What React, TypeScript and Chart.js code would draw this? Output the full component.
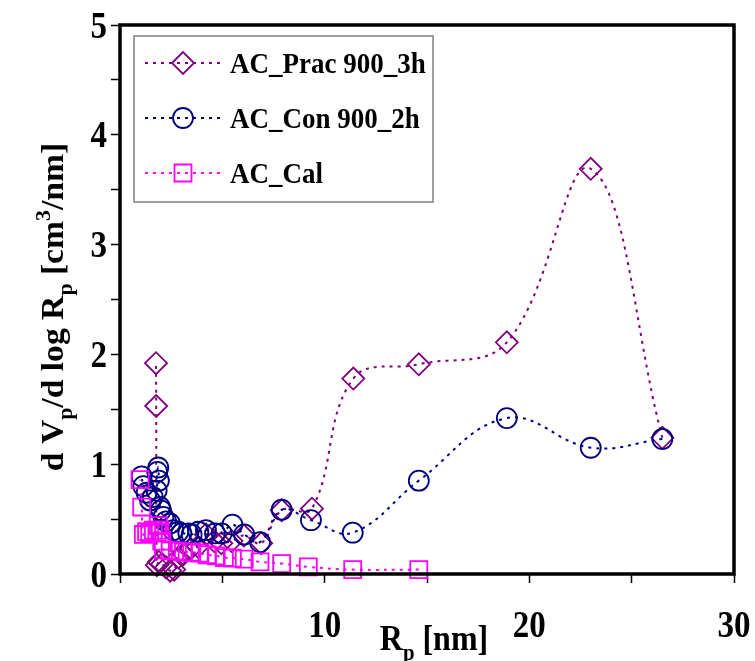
import React, { useEffect, useRef } from 'react';
import { Chart, registerables } from 'chart.js';

Chart.register(...registerables);

// ---------- data ----------
const pracX = [26.5, 23.0, 18.9, 14.6, 11.4, 9.38, 7.9, 6.9, 6.05, 5.45, 4.95, 4.6, 4.2, 3.8, 3.4, 3.1, 2.85, 2.65, 2.45, 2.25, 2.05, 1.9, 1.8, 1.77, 1.76];
const pracY = [1.24, 3.69, 2.11, 1.91, 1.78, 0.595, 0.58, 0.28, 0.35, 0.3, 0.28, 0.3, 0.36, 0.25, 0.22, 0.18, 0.15, 0.04, 0.03, 0.06, 0.09, 0.11, 0.08, 1.53, 1.92];

const conX = [26.5, 23.0, 18.9, 14.6, 11.37, 9.33, 7.9, 6.84, 6.07, 5.49, 4.97, 4.64, 4.2, 3.83, 3.5, 3.34, 3.0, 2.85, 2.6, 2.44, 2.25, 2.12, 2.0, 1.95, 1.9, 1.87, 1.82, 1.79, 1.6, 1.47, 1.3, 1.14, 1.06];
const conY = [1.23, 1.15, 1.42, 0.85, 0.376, 0.49, 0.585, 0.29, 0.36, 0.45, 0.37, 0.37, 0.4, 0.385, 0.36, 0.37, 0.37, 0.385, 0.4, 0.46, 0.48, 0.52, 0.58, 0.61, 0.85, 0.97, 0.93, 0.76, 0.7, 0.67, 0.74, 0.8, 0.89];

const calX = [14.6, 11.37, 9.2, 7.9, 6.84, 6.07, 5.49, 5.1, 4.7, 4.25, 3.9, 3.5, 3.1, 2.8, 2.45, 2.12, 2.04, 1.95, 1.87, 1.8, 1.63, 1.45, 1.3, 1.14, 1.06, 0.98];
const calY = [0.04, 0.04, 0.065, 0.095, 0.11, 0.135, 0.145, 0.15, 0.165, 0.175, 0.19, 0.2, 0.2, 0.21, 0.21, 0.22, 0.3, 0.4, 0.44, 0.38, 0.4, 0.37, 0.385, 0.36, 0.61, 0.86];

const seriesNames = ['AC_Prac 900_3h', 'AC_Con 900_2h', 'AC_Cal'];
const xTickValues = [0, 10, 20, 30];
const yTickValues = [0, 1, 2, 3, 4, 5];

// ---------- style ----------
const PURPLE = '#800080';
const NAVY = '#000080';
const MAGENTA = '#ff00ff';
const FONT = '"Liberation Serif", "Times New Roman", serif';
const STRETCH = 1.12;
const DASH = [3, 5];

type Seg = { t: string; k?: 'sub' | 'sup' };

function segFont(size: number, k?: string) {
  const s = k ? size * 0.65 : size;
  return `bold ${s}px ${FONT}`;
}

function richWidth(ctx: CanvasRenderingContext2D, segs: Seg[], size: number) {
  let w = 0;
  for (const s of segs) {
    ctx.font = segFont(size, s.k);
    w += ctx.measureText(s.t).width;
  }
  return w;
}

function drawRich(ctx: CanvasRenderingContext2D, segs: Seg[], size: number, x: number, y: number, align: 'left' | 'center' | 'right') {
  const w = richWidth(ctx, segs, size);
  let cx = align === 'left' ? x : align === 'center' ? x - w / 2 : x - w;
  ctx.textAlign = 'left';
  ctx.textBaseline = 'alphabetic';
  for (const s of segs) {
    ctx.font = segFont(size, s.k);
    const dy = s.k === 'sub' ? size * 0.28 : s.k === 'sup' ? -size * 0.42 : 0;
    ctx.fillText(s.t, cx, y + dy);
    cx += ctx.measureText(s.t).width;
  }
}

function drawMarker(ctx: CanvasRenderingContext2D, style: string, x: number, y: number, r: number, color: string) {
  ctx.save();
  ctx.strokeStyle = color;
  ctx.lineWidth = 1.8;
  ctx.setLineDash([]);
  ctx.beginPath();
  if (style === 'circle') {
    ctx.arc(x, y, r, 0, Math.PI * 2);
  } else if (style === 'rectRot') {
    ctx.moveTo(x - r, y);
    ctx.lineTo(x, y - r);
    ctx.lineTo(x + r, y);
    ctx.lineTo(x, y + r);
    ctx.closePath();
  } else {
    const h = r * Math.SQRT1_2;
    ctx.rect(x - h, y - h, 2 * h, 2 * h);
  }
  ctx.stroke();
  ctx.restore();
}

const decorPlugin = {
  id: 'decor',
  afterDraw(chart: any) {
    const ctx: CanvasRenderingContext2D = chart.ctx;
    const { left, right, top, bottom } = chart.chartArea;
    const xs = chart.scales.x;
    const ys = chart.scales.y;

    ctx.save();
    // frame
    ctx.strokeStyle = '#000';
    ctx.lineWidth = 3.5;
    ctx.setLineDash([]);
    ctx.strokeRect(left, top, right - left, bottom - top);

    ctx.fillStyle = '#000';
    const tickSize = 33;
    // y tick labels
    for (const v of yTickValues) {
      const py = ys.getPixelForValue(v);
      ctx.save();
      ctx.translate(107, py + tickSize * 0.34 * STRETCH);
      ctx.scale(1, STRETCH);
      drawRich(ctx, [{ t: String(v) }], tickSize, 0, 0, 'right');
      ctx.restore();
    }
    // x tick labels
    for (const v of xTickValues) {
      const px = xs.getPixelForValue(v);
      ctx.save();
      ctx.translate(px, 637);
      ctx.scale(1, STRETCH);
      drawRich(ctx, [{ t: String(v) }], tickSize, 0, 0, 'center');
      ctx.restore();
    }
    // x title
    ctx.save();
    ctx.translate(434, 650);
    ctx.scale(1, STRETCH);
    drawRich(ctx, [{ t: 'R' }, { t: 'p', k: 'sub' }, { t: ' [nm]' }], 32, 0, 0, 'center');
    ctx.restore();
    // y title
    ctx.save();
    ctx.translate(63, 307);
    ctx.rotate(-Math.PI / 2);
    ctx.scale(1.05, 1);
    drawRich(ctx, [
      { t: 'd V' }, { t: 'p', k: 'sub' }, { t: '/d log R' }, { t: 'p', k: 'sub' },
      { t: ' [cm' }, { t: '3', k: 'sup' }, { t: '/nm]' },
    ], 32, 0, 0, 'center');
    ctx.restore();

    // legend
    const lx = 134, ly = 36, lw = 299, lh = 166;
    ctx.fillStyle = '#fff';
    ctx.fillRect(lx, ly, lw, lh);
    ctx.strokeStyle = '#808080';
    ctx.lineWidth = 1.5;
    ctx.strokeRect(lx, ly, lw, lh);
    const entries = [
      { name: seriesNames[0], color: PURPLE, style: 'rectRot', r: 11, y: 63 },
      { name: seriesNames[1], color: NAVY, style: 'circle', r: 10, y: 118 },
      { name: seriesNames[2], color: MAGENTA, style: 'rect', r: 12, y: 173 },
    ];
    for (const e of entries) {
      ctx.save();
      ctx.strokeStyle = e.color;
      ctx.lineWidth = 2;
      ctx.setLineDash(DASH);
      ctx.beginPath();
      ctx.moveTo(145, e.y);
      ctx.lineTo(222, e.y);
      ctx.stroke();
      ctx.restore();
      drawMarker(ctx, e.style, 183, e.y, e.r, e.color);
      ctx.save();
      ctx.fillStyle = '#000';
      ctx.translate(230, e.y + 27 * 0.33 * STRETCH);
      ctx.scale(1, STRETCH);
      drawRich(ctx, [{ t: e.name }], 27, 0, 0, 'left');
      ctx.restore();
    }
    ctx.restore();
  },
};

function mk(xsArr: number[], ysArr: number[], label: string, color: string, style: string, r: number) {
  return {
    label,
    data: xsArr.map((x, i) => ({ x, y: ysArr[i] })),
    showLine: true,
    borderColor: color,
    borderWidth: 2,
    borderDash: DASH,
    tension: 0.4,
    fill: false,
    pointStyle: style,
    pointRadius: r,
    pointHoverRadius: r,
    pointBorderWidth: 1.8,
    pointBorderColor: color,
    pointBackgroundColor: 'rgba(0,0,0,0)',
    clip: false,
  };
}

export default function App() {
  const ref = useRef<HTMLCanvasElement>(null);
  useEffect(() => {
    const chart = new Chart(ref.current as HTMLCanvasElement, {
      type: 'scatter',
      data: {
        datasets: [
          mk(calX, calY, seriesNames[2], MAGENTA, 'rect', 12),
          mk(conX, conY, seriesNames[1], NAVY, 'circle', 10),
          mk(pracX, pracY, seriesNames[0], PURPLE, 'rectRot', 11),
        ] as any,
      },
      options: {
        responsive: false,
        devicePixelRatio: 1,
        animation: false,
        events: [],
        layout: { padding: { left: 0, top: 25, right: 21, bottom: 0 } },
        plugins: { legend: { display: false }, tooltip: { enabled: false }, title: { display: false } },
        scales: {
          x: {
            type: 'linear',
            min: 0,
            max: 30,
            ticks: { stepSize: 5, display: false, autoSkip: false },
            grid: { drawOnChartArea: false, drawTicks: true, tickLength: 9, color: '#000', tickColor: '#000', tickWidth: 1.5 },
            border: { display: false },
            afterFit: (s: any) => { s.height = 87; },
          },
          y: {
            type: 'linear',
            min: 0,
            max: 5,
            ticks: { stepSize: 0.5, display: false, autoSkip: false },
            grid: { drawOnChartArea: false, drawTicks: true, tickLength: 9, color: '#000', tickColor: '#000', tickWidth: 1.5 },
            border: { display: false },
            afterFit: (s: any) => { s.width = 120; },
          },
        },
      } as any,
      plugins: [decorPlugin],
    });
    return () => chart.destroy();
  }, []);
  return (
    <div style={{ position: 'fixed', left: 0, top: 0, width: 755, height: 661, background: '#fff' }}>
      <canvas ref={ref} width={755} height={661} style={{ display: 'block', width: 755, height: 661 }} />
    </div>
  );
}
